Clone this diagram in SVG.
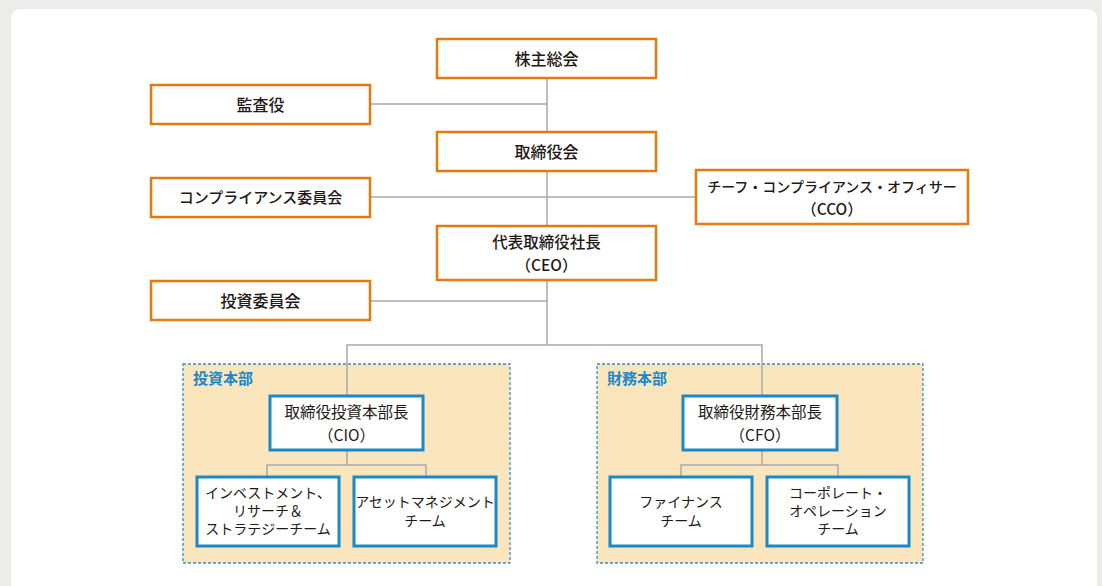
<svg xmlns="http://www.w3.org/2000/svg" width="1102" height="586" viewBox="0 0 1102 586">
<style>
.o{fill:#fff;stroke:#e27a10;stroke-width:2.5}
.b{fill:#fff;stroke:#1b88c8;stroke-width:3}
.p{fill:#fbe5bd;stroke:#2f8fca;stroke-width:1.3;stroke-dasharray:3 2}
.t{font-family:"Noto Sans CJK JP","Noto Sans",sans-serif;font-size:14px;fill:#231815;text-anchor:middle}
.k{font-size:16px}
.j{font-size:15.5px}
.f{font-size:15px}
.m{font-weight:500}
.h{font-family:"Noto Sans CJK JP","Noto Sans",sans-serif;font-size:15px;font-weight:700;fill:#1b88c8}
.c{fill:none;stroke:#a9a9a9;stroke-width:1.5}
</style>
<rect width="1102" height="586" fill="#edecea"/>
<rect x="11" y="9" width="1086" height="600" rx="9" fill="#fff"/>
<g id="panel-invest"><rect class="p" x="183" y="364" width="327" height="199"/><text class="h" x="193" y="384">投資本部</text></g>
<g id="panel-finance"><rect class="p" x="597" y="364" width="326" height="199"/><text class="h" x="607" y="384">財務本部</text></g>
<g id="connectors">
<path class="c" d="M547 79V345M370 104H547M370 197H696M370 301H547M347 396V345H762V396"/>
<path class="c" d="M347 450V465M267 477V465H426V477M762 450V465M681 477V465H838V477"/>
</g>
<g id="n1"><rect class="o" x="437" y="39" width="219" height="39"/><text class="t k m" x="546.5" y="64.5">株主総会</text></g>
<g id="n2"><rect class="o" x="151" y="85" width="219" height="39"/><text class="t k m" x="260.5" y="110.5">監査役</text></g>
<g id="n3"><rect class="o" x="437" y="132" width="219" height="39"/><text class="t k m" x="546.5" y="157.5">取締役会</text></g>
<g id="n4"><rect class="o" x="151" y="178" width="219" height="39"/><text class="t f m" x="260.5" y="203">コンプライアンス委員会</text></g>
<g id="n5"><rect class="o" x="696" y="170" width="272" height="54"/><text class="t m" x="832" y="192">チーフ・コンプライアンス・オフィサー</text><text class="t j m" x="832" y="215">（CCO）</text></g>
<g id="n6"><rect class="o" x="437" y="226" width="219" height="54"/><text class="t j m" x="546.5" y="247.5">代表取締役社長</text><text class="t j m" x="546.5" y="270.5">（CEO）</text></g>
<g id="n7"><rect class="o" x="151" y="281" width="219" height="39"/><text class="t k m" x="260.5" y="306.5">投資委員会</text></g>
<g id="n8"><rect class="b" x="270" y="396" width="153" height="54"/><text class="t j" x="346.5" y="417.5">取締役投資本部長</text><text class="t j" x="346.5" y="440.5">（CIO）</text></g>
<g id="n9"><rect class="b" x="197" y="477" width="142" height="69"/><text class="t" x="268" y="498">インベストメント、</text><text class="t" x="268" y="516">リサーチ＆</text><text class="t" x="268" y="534">ストラテジーチーム</text></g>
<g id="n10"><rect class="b" x="354" y="477" width="142" height="69"/><text class="t" x="425" y="507">アセットマネジメント</text><text class="t" x="425" y="526">チーム</text></g>
<g id="n11"><rect class="b" x="683" y="396" width="154" height="54"/><text class="t j" x="760" y="417.5">取締役財務本部長</text><text class="t j" x="760" y="440.5">（CFO）</text></g>
<g id="n12"><rect class="b" x="610" y="477" width="142" height="69"/><text class="t" x="681" y="507">ファイナンス</text><text class="t" x="681" y="526">チーム</text></g>
<g id="n13"><rect class="b" x="767" y="477" width="142" height="69"/><text class="t" x="838" y="498">コーポレート・</text><text class="t" x="838" y="516">オペレーション</text><text class="t" x="838" y="534">チーム</text></g>
</svg>
